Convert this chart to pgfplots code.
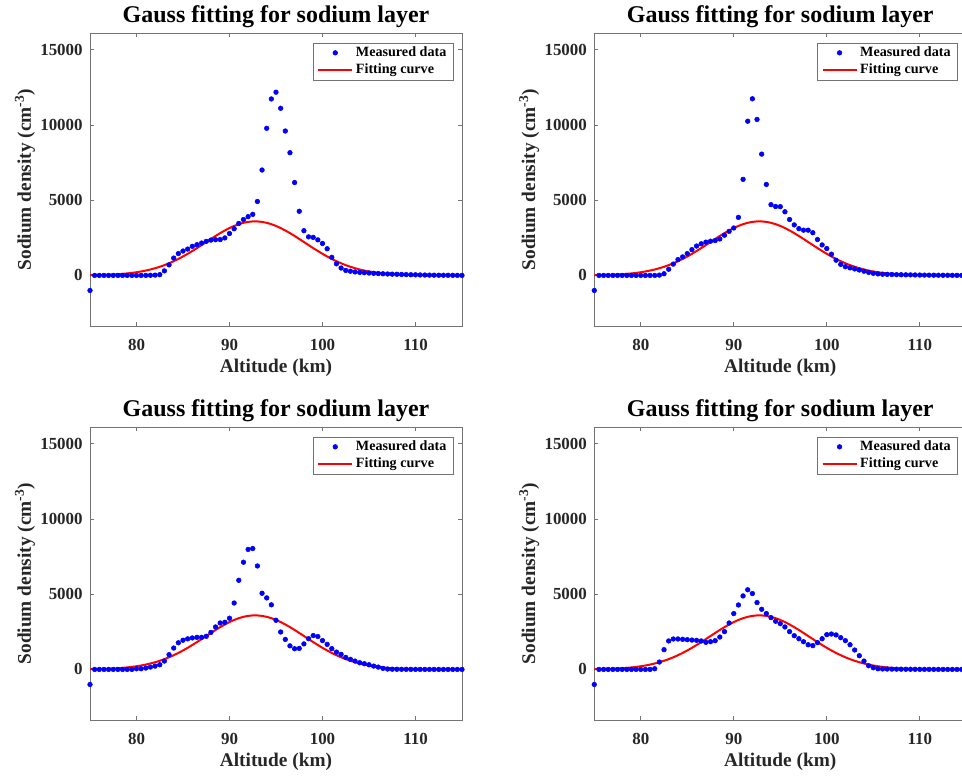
\documentclass[border=0pt]{standalone}
\usepackage{fontspec}
\setmainfont{Liberation Serif}
\usepackage{pgfplots}
\usepackage{pgfplotstable}
\pgfplotsset{compat=1.18}

% measured profiles, 0.5 km steps
\pgfplotstableread{
x y
75 -1000
75.5 0
76 0
76.5 0
77 0
77.5 0
78 0
78.5 0
79 0
79.5 0
80 0
80.5 0
81 0
81.5 10
82 20
82.5 50
83 300
83.5 700
84 1150
84.5 1450
85 1620
85.5 1750
86 1930
86.5 2040
87 2150
87.5 2260
88 2345
88.5 2370
89 2380
89.5 2490
90 2780
90.5 3100
91 3450
91.5 3710
92 3900
92.5 4055
93 4910
93.5 7000
94 9770
94.5 11720
95 12170
95.5 11100
96 9590
96.5 8150
97 6170
97.5 4260
98 2970
98.5 2560
99 2525
99.5 2360
100 2120
100.5 1770
101 1200
101.5 770
102 490
102.5 330
103 280
103.5 230
104 200
104.5 180
105 160
105.5 140
106 125
106.5 110
107 95
107.5 85
108 75
108.5 65
109 55
109.5 45
110 40
110.5 30
111 25
111.5 20
112 15
112.5 12
113 10
113.5 8
114 5
114.5 3
115 0
}\dataA

\pgfplotstableread{
x y
75 -1000
75.5 0
76 0
76.5 0
77 0
77.5 0
78 0
78.5 0
79 0
79.5 0
80 0
80.5 0
81 0
81.5 0
82 20
82.5 110
83 410
83.5 750
84 1050
84.5 1230
85 1450
85.5 1710
86 1950
86.5 2100
87 2210
87.5 2270
88 2315
88.5 2420
89 2670
89.5 2925
90 3150
90.5 3855
91 6380
91.5 10240
92 11730
92.5 10360
93 8055
93.5 6040
94 4700
94.5 4575
95 4565
95.5 4225
96 3715
96.5 3355
97 3105
97.5 3005
98 3005
98.5 2835
99 2385
99.5 2025
100 1785
100.5 1410
101 1010
101.5 730
102 575
102.5 500
103 430
103.5 360
104 280
104.5 200
105 140
105.5 100
106 80
106.5 70
107 60
107.5 50
108 45
108.5 40
109 35
109.5 30
110 25
110.5 20
111 18
111.5 15
112 12
112.5 10
113 8
113.5 6
114 4
114.5 2
115 0
}\dataB

\pgfplotstableread{
x y
75 -1000
75.5 0
76 0
76.5 0
77 0
77.5 0
78 0
78.5 0
79 0
79.5 0
80 40
80.5 45
81 90
81.5 155
82 220
82.5 310
83 555
83.5 980
84 1420
84.5 1770
85 1940
85.5 2030
86 2090
86.5 2130
87 2130
87.5 2200
88 2460
88.5 2820
89 3085
89.5 3130
90 3400
90.5 4410
91 5920
91.5 7120
92 7970
92.5 8030
93 6870
93.5 5060
94 4750
94.5 4290
95 3265
95.5 2485
96 1995
96.5 1565
97 1375
97.5 1395
98 1695
98.5 2040
99 2250
99.5 2185
100 1915
100.5 1665
101 1380
101.5 1150
102 1000
102.5 800
103 670
103.5 555
104 445
104.5 380
105 310
105.5 220
106 155
106.5 70
107 25
107.5 15
108 10
108.5 8
109 6
109.5 5
110 4
110.5 3
111 2
111.5 2
112 1
112.5 1
113 0
113.5 0
114 0
114.5 0
115 0
}\dataC

\pgfplotstableread{
x y
75 -1000
75.5 0
76 0
76.5 0
77 0
77.5 0
78 0
78.5 0
79 0
79.5 0
80 0
80.5 0
81 0
81.5 45
82 490
82.5 1310
83 1890
83.5 2020
84 2020
84.5 2000
85 1975
85.5 1950
86 1930
86.5 1890
87 1800
87.5 1840
88 1910
88.5 2150
89 2510
89.5 3085
90 3710
90.5 4280
91 4880
91.5 5290
92 5040
92.5 4440
93 3995
93.5 3710
94 3440
94.5 3200
95 3040
95.5 2820
96 2510
96.5 2240
97 2040
97.5 1840
98 1640
98.5 1580
99 1780
99.5 2040
100 2310
100.5 2350
101 2290
101.5 2110
102 1910
102.5 1640
103 1290
103.5 910
104 555
104.5 245
105 110
105.5 45
106 30
106.5 25
107 20
107.5 18
108 15
108.5 12
109 10
109.5 8
110 6
110.5 5
111 4
111.5 3
112 2
112.5 2
113 1
113.5 1
114 0
114.5 0
115 0
}\dataD

% fitted Gaussian (same in all panels)
\pgfplotstableread{
x y
75 15
75.5 20
76 27
76.5 36
77 47
77.5 62
78 80
78.5 103
79 132
79.5 167
80 210
80.5 261
81 322
81.5 393
82 477
82.5 573
83 682
83.5 805
84 943
84.5 1093
85 1258
85.5 1433
86 1620
86.5 1814
87 2015
87.5 2218
88 2421
88.5 2619
89 2808
89.5 2985
90 3146
90.5 3286
91 3403
91.5 3493
92 3555
92.5 3586
93 3586
93.5 3555
94 3493
94.5 3403
95 3286
95.5 3146
96 2985
96.5 2808
97 2619
97.5 2421
98 2218
98.5 2015
99 1814
99.5 1620
100 1433
100.5 1258
101 1093
101.5 943
102 805
102.5 682
103 573
103.5 477
104 393
104.5 322
105 261
105.5 210
106 167
106.5 132
107 103
107.5 80
108 62
108.5 47
109 36
109.5 27
110 20
110.5 15
111 11
112 6
113 3
114 1
115 1
}\fitcurve

\pgfplotsset{
  gaussax/.style={
    scale only axis, width=279pt, height=219.75pt,
    xmin=75, xmax=115, ymin=-3360, ymax=16100,
    xtick={80,90,100,110}, ytick={0,5000,10000,15000},
    tick align=inside, major tick length=2.8pt,
    axis line style={black!55, line width=0.5pt},
    every tick/.style={black!55, line width=0.5pt},
    tick label style={font=\fontsize{12.7}{14}\selectfont\bfseries, text=black!85},
    /pgf/number format/assume math mode=true,
    /pgf/number format/1000 sep={},
    scaled y ticks=false,
    yticklabel style={xshift=-2pt},
    xticklabel style={yshift=-6.5pt},
    after end axis/.append code={
      \node[font=\fontsize{18}{20}\selectfont\bfseries, anchor=center]
        at (rel axis cs:0.5,1.0556) {Gauss fitting for sodium layer};},
    xlabel={Altitude (km)},
    ylabel={Sodium density (cm\textsuperscript{-3})},
    label style={font=\fontsize{14.5}{16}\selectfont\bfseries, text=black!85},
    xlabel style={at={(axis description cs:0.5,-0.1433)}, anchor=center},
    ylabel style={at={(axis description cs:-0.1747,0.5)}, anchor=center},
    legend style={at={(axis description cs:0.9766,0.967)}, anchor=north east,
                  draw=black!55, fill=white, inner xsep=3pt, inner ysep=1pt,
                  font=\fontsize{10.6}{12}\selectfont\bfseries},
    legend cell align=left,
  },
  measpts/.style={only marks, mark=*, mark size=1.75pt, color=blue,
    legend image code/.code={
      \draw[mark repeat=2, mark phase=2, ##1]
        plot coordinates {(0pt,0pt) (12.75pt,0pt) (25.5pt,0pt)};}},
  fitline/.style={red, line width=1.5pt,
    legend image code/.code={\draw[##1] (0pt,0pt) -- (25.5pt,0pt);}},
}

\begin{document}
\begin{tikzpicture}
\path[use as bounding box, clip] (0pt,0pt) rectangle (721.5pt,582pt);

\begin{axis}[gaussax, at={(67.5pt,337.5pt)}, anchor=south west]
\addplot[measpts] table {\dataA};
\addlegendentry{Measured data}
\addplot[fitline] table {\fitcurve};
\addlegendentry{Fitting curve}
\end{axis}

\begin{axis}[gaussax, at={(445.7pt,337.5pt)}, anchor=south west]
\addplot[measpts] table {\dataB};
\addlegendentry{Measured data}
\addplot[fitline] table {\fitcurve};
\addlegendentry{Fitting curve}
\end{axis}

\begin{axis}[gaussax, at={(67.5pt,42pt)}, anchor=south west]
\addplot[measpts] table {\dataC};
\addlegendentry{Measured data}
\addplot[fitline] table {\fitcurve};
\addlegendentry{Fitting curve}
\end{axis}

\begin{axis}[gaussax, at={(445.7pt,42pt)}, anchor=south west]
\addplot[measpts] table {\dataD};
\addlegendentry{Measured data}
\addplot[fitline] table {\fitcurve};
\addlegendentry{Fitting curve}
\end{axis}
\end{tikzpicture}
\end{document}
